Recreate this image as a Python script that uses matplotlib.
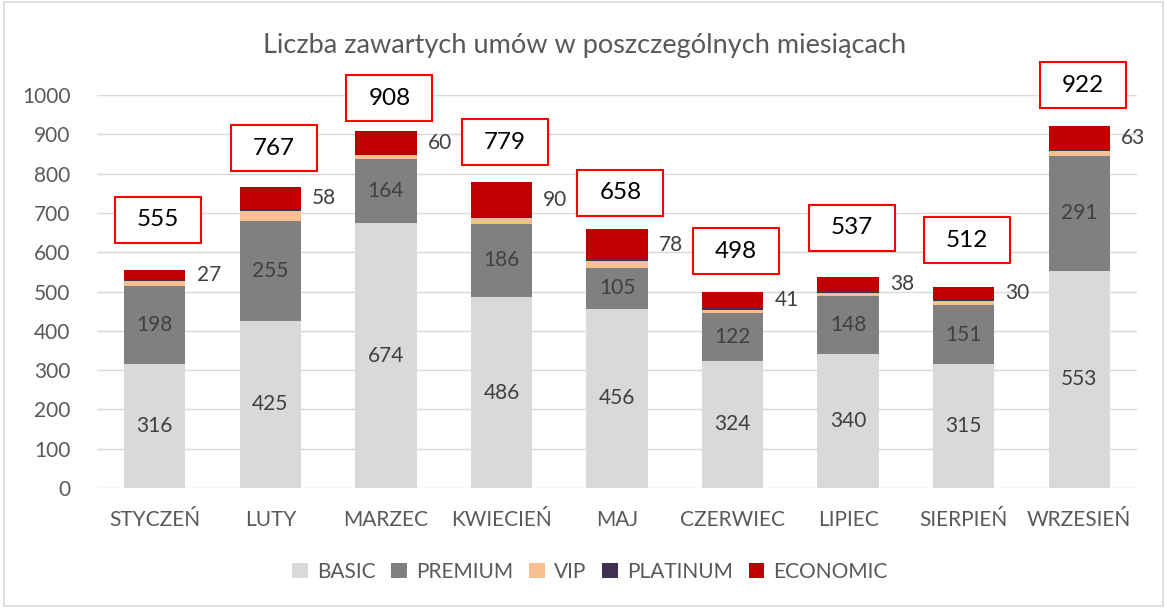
import matplotlib
matplotlib.use("Agg")
import matplotlib.pyplot as plt
from matplotlib.patches import Rectangle
import numpy as np

plt.rcParams['font.family'] = ['Lato', 'DejaVu Sans']

months = ["STYCZEŃ", "LUTY", "MARZEC", "KWIECIEŃ", "MAJ", "CZERWIEC", "LIPIEC", "SIERPIEŃ", "WRZESIEŃ"]
basic = [316, 425, 674, 486, 456, 324, 340, 315, 553]
premium = [198, 255, 164, 186, 105, 122, 148, 151, 291]
vip = [12, 25, 9, 14, 16, 8, 7, 10, 13]
platinum = [2, 4, 1, 3, 3, 3, 4, 6, 2]
economic = [27, 58, 60, 90, 78, 41, 38, 30, 63]
totals = [555, 767, 908, 779, 658, 498, 537, 512, 922]
# vertical centre of the total-boxes (data units)
box_centre = [682, 865, 992, 880, 751, 603, 662, 631, 1025]

title = "Liczba zawartych umów w poszczególnych miesiącach"
series_names = ["BASIC", "PREMIUM", "VIP", "PLATINUM", "ECONOMIC"]
colors = ["#D9D9D9", "#808080", "#F8C08F", "#403152", "#C00000"]
text_col = "#595959"

W, H = 1167, 608
fig = plt.figure(figsize=(W / 100, H / 100), dpi=100)
ax = fig.add_axes([97 / W, (H - 488) / H, (1137 - 97) / W, (488 - 95) / H])

x = np.arange(len(months))
bw = 0.53
series = [basic, premium, vip, platinum, economic]
bottom = np.zeros(len(months))
bars = []
for vals, c, name in zip(series, colors, series_names):
    b = ax.bar(x, vals, bw, bottom=bottom, color=c, label=name, zorder=3)
    bars.append(b)
    bottom = bottom + np.array(vals)

lab_fs = 15
# inside labels for BASIC and PREMIUM
for vals, bot in ((basic, np.zeros(len(months))), (premium, np.array(basic))):
    for i, v in enumerate(vals):
        ax.text(x[i], bot[i] + v / 2, str(v), ha="center", va="center",
                fontsize=lab_fs, color="#404040", zorder=4)

# ECONOMIC labels to the right
eco_bottom = np.array(basic) + np.array(premium) + np.array(vip) + np.array(platinum)
for i, v in enumerate(economic):
    ax.annotate(str(v), (x[i] + bw / 2, eco_bottom[i] + v / 2), xytext=(8, 0),
                textcoords="offset points", ha="left", va="center",
                fontsize=lab_fs, color="#404040", zorder=4)

# total boxes
box_w = 86 / 115.5
box_h = 46 / 0.393
for i, t in enumerate(totals):
    ax.add_patch(Rectangle((x[i] - box_w / 2 + 0.03, box_centre[i] - box_h / 2), box_w, box_h,
                           facecolor="white", edgecolor="#FF0000", linewidth=1.5,
                           zorder=5, clip_on=False))
    ax.text(x[i] + 0.03, box_centre[i], str(t), ha="center", va="center",
            fontsize=17.5, color="black", zorder=6, clip_on=False)

ax.set_xlim(-0.5, len(months) - 0.5)
ax.set_ylim(0, 1000)
ax.set_yticks(np.arange(0, 1001, 100))
ax.set_xticks(x)
ax.set_xticklabels(months)
ax.tick_params(axis="both", length=0, labelsize=lab_fs, colors=text_col)
ax.tick_params(axis="x", pad=16)
ax.tick_params(axis="y", pad=19)
ax.grid(axis="y", color="#D9D9D9", linewidth=1, zorder=0)
for s in ax.spines.values():
    s.set_visible(False)

fig.text(585 / W, (H - 45) / H, title, ha="center", va="center",
         fontsize=19.5, color=text_col)

leg = fig.legend(handles=bars, labels=series_names, loc="center",
                 bbox_to_anchor=(590 / W, (H - 572) / H), ncol=5, frameon=False,
                 fontsize=lab_fs, handlelength=0.75, handleheight=0.75,
                 columnspacing=0.75, handletextpad=0.45)
for t in leg.get_texts():
    t.set_color(text_col)

fig.patches.append(Rectangle((0.003, 0.003), 0.994, 0.994, transform=fig.transFigure,
                             fill=False, edgecolor="#D9D9D9", linewidth=1.2))

fig.savefig("out.png", dpi=100, facecolor="white")
